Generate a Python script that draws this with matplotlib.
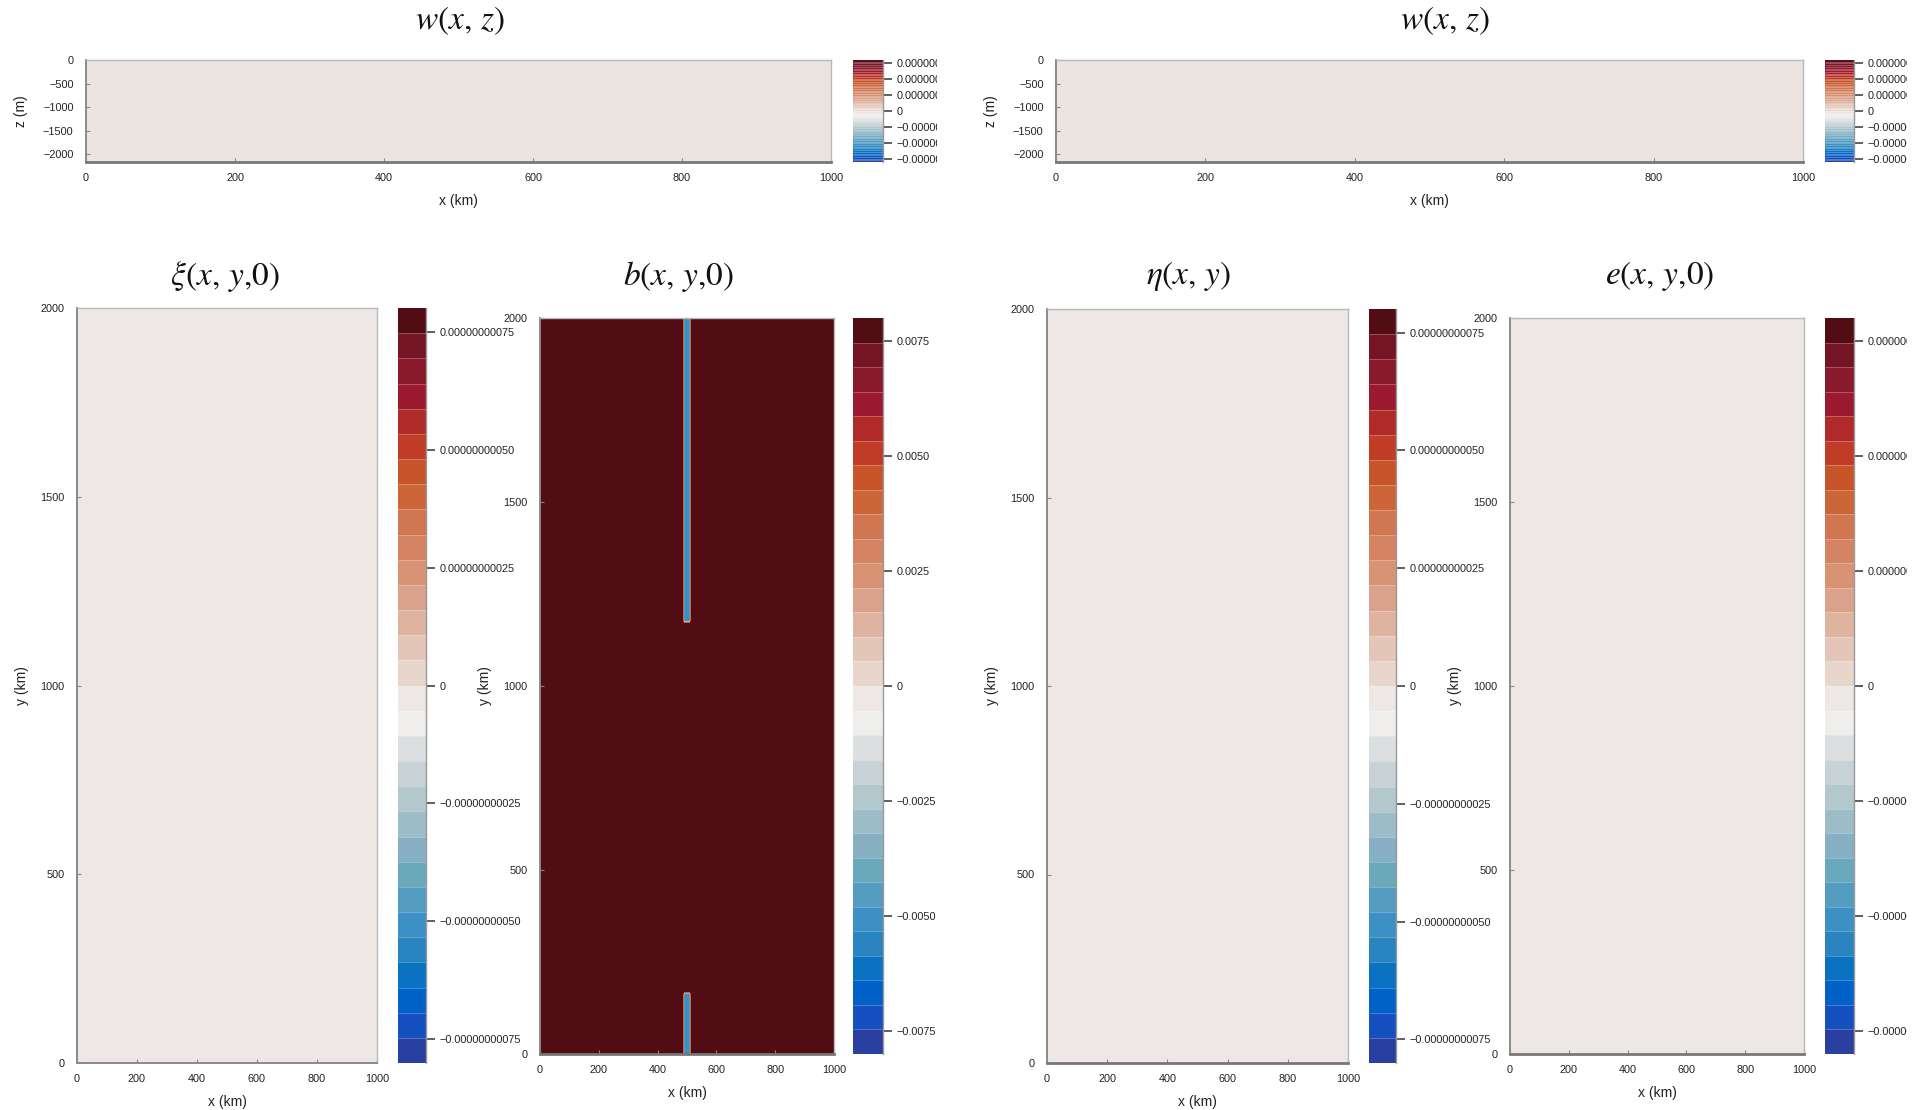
import numpy as np
import matplotlib
matplotlib.use("Agg")
import matplotlib.pyplot as plt
from matplotlib import font_manager
from matplotlib.colors import ListedColormap, LinearSegmentedColormap
from matplotlib.ticker import FuncFormatter
from matplotlib.patches import Rectangle

# narrow sans for the tick labels if we have one, otherwise a smaller Liberation Sans
_names = {f.name for f in font_manager.fontManager.ttflist}
if 'Liberation Sans Narrow' in _names:
    TICK_FAMILY, TICK_SIZE = 'Liberation Sans Narrow', 9
else:
    TICK_FAMILY, TICK_SIZE = 'Liberation Sans', 7.8
plt.rcParams['font.family'] = [TICK_FAMILY, 'DejaVu Sans']
plt.rcParams['mathtext.fontset'] = 'stix'

W, H = 1926, 1110

# ---- data -------------------------------------------------------------
x_km = np.arange(0, 1001, 5)
y_km = np.arange(0, 2001, 5)
depth_m = 2160
z_m = np.linspace(-depth_m, 0, 55)

x_ticks = [0, 200, 400, 600, 800, 1000]
y_ticks = [0, 500, 1000, 1500, 2000]
z_ticks = [0, -500, -1000, -1500, -2000]

# all fields except b are (numerically) zero at this time step
w_left = np.zeros((len(z_m), len(x_km)))
w_right = np.zeros((len(z_m), len(x_km)))
xi = np.zeros((len(y_km), len(x_km)))
eta = np.zeros((len(y_km), len(x_km)))
e_field = np.zeros((len(y_km), len(x_km)))

# buoyancy: uniform value with a thin negative strip near x = 500 km
b_background = 0.0079
b_strip = -0.0053
strip_x = (490, 510)
strip_y = [(0, 167), (1172, 2000)]

# colorbar ranges (limit, tick step, decimals)
w_lim, w_step, w_dec = 8e-7, 2.5e-7, 8
xi_lim, xi_step, xi_dec = 8e-10, 2.5e-10, 11
b_lim, b_step, b_dec = 0.008, 0.0025, 4
eta_lim, eta_step, eta_dec = 8e-10, 2.5e-10, 11
e_lim, e_step, e_dec = 8e-7, 2.5e-7, 8

# ---- build b field ----------------------------------------------------
XX, YY = np.meshgrid(x_km, y_km)
b_field = np.full(XX.shape, b_background)
for y0, y1 in strip_y:
    m = (XX >= strip_x[0]) & (XX <= strip_x[1]) & (YY >= y0) & (YY <= y1)
    b_field[m] = b_strip

# ---- colours (banded "balance") --------------------------------------
balance30 = ['#2a40a0', '#1450c0', '#0062c8', '#0a72c0', '#2a84c0', '#3c90c4',
             '#549cc0', '#6aa8bc', '#88b0c4', '#9cbcc8', '#b2c8cc', '#c8d2d6',
             '#dcdfe0', '#f0eeec', '#ede8e5', '#e8d6cc', '#e4c6b8', '#deb4a0',
             '#daa28a', '#d89274', '#d48462', '#d07650', '#cc6638', '#c8542a',
             '#c03c26', '#b02a2a', '#9c1a30', '#881a2c', '#741424', '#520c14']
cmap30 = ListedColormap(balance30)
cmap_fine = LinearSegmentedColormap.from_list('balance_fine', balance30, N=256)

fig = plt.figure(figsize=(W / 100, H / 100), dpi=100)


def px_axes(x0, y0, x1, y1):
    return fig.add_axes([x0 / W, 1 - y1 / H, (x1 - x0) / W, (y1 - y0) / H])


def fmt_maker(dec):
    def f(v, pos):
        if abs(v) < 1e-14:
            return '0'
        s = f"{abs(v):.{dec}f}"
        return ('\u2212' + s) if v < 0 else s
    return FuncFormatter(f)


def style_axes(ax, bottom_dark=False):
    for side in ['left', 'bottom']:
        ax.spines[side].set_color('#8a8a8a')
        ax.spines[side].set_linewidth(1.4)
    for side in ['top', 'right']:
        ax.spines[side].set_color('#b8b8b8')
        ax.spines[side].set_linewidth(1.0)
    if bottom_dark:
        ax.spines['bottom'].set_color('#777777')
        ax.spines['bottom'].set_linewidth(2.0)
    ax.tick_params(direction='in', length=3, width=0.8, color='#888888',
                   labelsize=TICK_SIZE, labelcolor='#222222')
    ax.tick_params(axis='y', pad=9)
    ax.tick_params(axis='x', pad=8)


def field_panel(ax, cax, xg, yg, field, lim, step, dec, nbands, cmap):
    half = nbands // 2
    levels = np.arange(-half, half + 1) * (lim / half)
    cs = ax.contourf(xg, yg, field, levels=levels, cmap=cmap)
    cb = fig.colorbar(cs, cax=cax, drawedges=True)
    cb.dividers.set_color('white')
    cb.dividers.set_alpha(0.3)
    cb.dividers.set_linewidth(0.6)
    cb.outline.set_visible(False)
    cax.spines['right'].set_visible(True)
    cax.spines['right'].set_color('#999999')
    cax.spines['right'].set_linewidth(1.0)
    cb.set_ticks(np.arange(-3, 4) * step)
    cb.ax.yaxis.set_major_formatter(fmt_maker(dec))
    cax.tick_params(length=6.5, width=1.1, color='#333333', labelsize=TICK_SIZE,
                    labelcolor='#222222', pad=3)
    return cs


label_kw = dict(fontsize=10, fontfamily=['Liberation Sans', 'DejaVu Sans'],
                color='#222222')

# ---- top row: w(x, z) -------------------------------------------------
for (ax_box, cb_box), w in zip([((86, 60, 831, 162), (853, 60, 883, 162)),
                                ((1056, 60, 1803, 162), (1825, 60, 1854, 162))],
                               [w_left, w_right]):
    ax = px_axes(*ax_box)
    cax = px_axes(*cb_box)
    field_panel(ax, cax, x_km, z_m, w, w_lim, w_step, w_dec, 60, cmap_fine)
    ax.set_xlim(0, 1000)
    ax.set_ylim(-depth_m, 0)
    ax.set_xticks(x_ticks)
    ax.set_yticks(z_ticks)
    style_axes(ax, bottom_dark=True)
    ax.set_xlabel('x (km)', labelpad=8, **label_kw)
    ax.set_ylabel('z (m)', labelpad=11, **label_kw)

# ---- bottom row -------------------------------------------------------
panels = [
    ((77, 308, 377, 1063), (398, 308, 426, 1063), xi, xi_lim, xi_step, xi_dec, False),
    ((540, 318, 834, 1054), (853, 318, 883, 1054), b_field, b_lim, b_step, b_dec, True),
    ((1047, 309, 1348, 1063), (1369, 309, 1396, 1063), eta, eta_lim, eta_step, eta_dec, True),
    ((1510, 318, 1804, 1054), (1825, 318, 1854, 1054), e_field, e_lim, e_step, e_dec, True),
]
for ax_box, cb_box, fld, lim, step, dec, dark in panels:
    ax = px_axes(*ax_box)
    cax = px_axes(*cb_box)
    field_panel(ax, cax, x_km, y_km, fld, lim, step, dec, 30, cmap30)
    ax.set_xlim(0, 1000)
    ax.set_ylim(0, 2000)
    ax.set_xticks(x_ticks)
    ax.set_yticks(y_ticks)
    style_axes(ax, bottom_dark=dark)
    ax.set_xlabel('x (km)', labelpad=8, **label_kw)
    ax.set_ylabel('y (km)', labelpad=8, **label_kw)

# ---- titles -----------------------------------------------------------
titles = [r'$w(x,\,z)$', r'$w(x,\,z)$', r'$\xi(x,\,y{,}0)$',
          r'$b(x,\,y{,}0)$', r'$\eta(x,\,y)$', r'$e(x,\,y{,}0)$']
title_xy = [(460, 21), (1445, 21), (225, 276), (679, 276), (1189, 276), (1660, 276)]
for t, (tx, ty) in zip(titles, title_xy):
    fig.text(tx / W, 1 - ty / H, t, fontsize=24, ha='center', va='center',
             color='#111111')

# the two source images were cropped on their right edges
for x0, x1 in [(937, 970), (1907, W)]:
    fig.patches.append(Rectangle((x0 / W, 0), (x1 - x0) / W, 1,
                                 transform=fig.transFigure, facecolor='white',
                                 edgecolor='none', zorder=10))

fig.savefig('out.png', dpi=100, facecolor='white')
